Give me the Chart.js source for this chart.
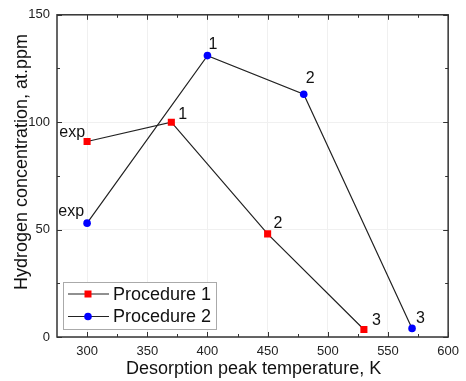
<!DOCTYPE html>
<html>
<head>
<meta charset="utf-8">
<script src="https://cdn.jsdelivr.net/npm/chart.js@4/dist/chart.umd.min.js"></script>
<style>
  html, body { margin: 0; padding: 0; background: #fff; }
  #wrap { width: 466px; height: 381px; position: relative; }
</style>
</head>
<body>
<div id="wrap"><canvas id="chart"></canvas></div>
<script>
// data
const p1Temp = [300, 370, 450, 530];
const p1Conc = [91, 100, 48, 3.5];
const p1Labels = ['exp', '1', '2', '3'];

const p2Temp = [300, 400, 480, 570];
const p2Conc = [53, 131, 113, 4];
const p2Labels = ['exp', '1', '2', '3'];

const xTicks = [300, 350, 400, 450, 500, 550, 600];
const yTicks = [0, 50, 100, 150];
const xMinor = [325, 375, 425, 475, 525, 575];
const yMinor = [25, 75, 125];

const seriesNames = ['Procedure 1', 'Procedure 2'];
const xTitle = 'Desorption peak temperature, K';
const yTitle = 'Hydrogen concentration, at.ppm';

const FONT = 'Arial, "Liberation Sans", sans-serif';
const AXIS = '#333';

// where each point label sits relative to its marker (dx, baseline dy)
const labelNudge = [
    [[-2, -5], [7, -3], [6, -6], [8, -4]],
    [[-3, -7], [1, -7], [2, -11], [4, -5]]
];

function toPoints(xs, ys) {
    return xs.map((x, i) => ({ x: x, y: ys[i] }));
}

// frame, inward ticks, titles, point labels and the boxed legend
const decorPlugin = {
    id: 'decor',
    afterDatasetsDraw(chart) {
        const ctx = chart.ctx;
        const a = chart.chartArea;
        const xs = chart.scales.x, ys = chart.scales.y;
        ctx.save();

        // ticks, on all four sides, pointing in
        ctx.strokeStyle = AXIS;
        ctx.lineWidth = 1;
        ctx.beginPath();
        const tickX = (list, len) => {
            list.forEach(v => {
                const px = Math.round(xs.getPixelForValue(v)) + 0.5;
                ctx.moveTo(px, a.bottom); ctx.lineTo(px, a.bottom - len);
                ctx.moveTo(px, a.top); ctx.lineTo(px, a.top + len);
            });
        };
        const tickY = (list, len) => {
            list.forEach(v => {
                const py = Math.round(ys.getPixelForValue(v)) + 0.5;
                ctx.moveTo(a.left, py); ctx.lineTo(a.left + len, py);
                ctx.moveTo(a.right, py); ctx.lineTo(a.right - len, py);
            });
        };
        tickX(xTicks, 5); tickX(xMinor, 3);
        tickY(yTicks, 5); tickY(yMinor, 3);
        ctx.stroke();

        // frame
        ctx.lineWidth = 1.5;
        ctx.strokeRect(a.left, a.top, a.right - a.left, a.bottom - a.top);

        // axis titles
        ctx.fillStyle = '#111';
        ctx.font = '18px ' + FONT;
        ctx.textAlign = 'center';
        ctx.textBaseline = 'alphabetic';
        ctx.fillText(xTitle, (a.left + a.right) / 2 + 1, 374);
        ctx.save();
        ctx.translate(27, 162);
        ctx.rotate(-Math.PI / 2);
        ctx.fillText(yTitle, 0, 0);
        ctx.restore();

        // point labels
        ctx.font = '16px ' + FONT;
        [p1Labels, p2Labels].forEach((labels, di) => {
            const meta = chart.getDatasetMeta(di);
            meta.data.forEach((pt, i) => {
                const txt = labels[i];
                const n = labelNudge[di][i];
                ctx.textAlign = txt === 'exp' ? 'right' : 'left';
                ctx.fillText(txt, pt.x + n[0], pt.y + n[1]);
            });
        });

        // legend
        const lx = 63, ly = 282, lw = 153, lh = 47;
        ctx.fillStyle = '#fff';
        ctx.fillRect(lx, ly, lw, lh);
        ctx.strokeStyle = '#aaa';
        ctx.lineWidth = 1;
        ctx.strokeRect(lx + 0.5, ly + 0.5, lw, lh);
        ctx.font = '18px ' + FONT;
        ctx.textAlign = 'left';
        ctx.textBaseline = 'middle';
        chart.data.datasets.forEach((ds, i) => {
            const cy = ly + 12 + i * 22.5;
            ctx.strokeStyle = '#222';
            ctx.lineWidth = 1.2;
            ctx.beginPath();
            ctx.moveTo(lx + 5, cy); ctx.lineTo(lx + 46, cy);
            ctx.stroke();
            ctx.fillStyle = ds.pointBackgroundColor;
            if (ds.pointStyle === 'rect') {
                ctx.fillRect(lx + 25 - 3.5, cy - 3.5, 7, 7);
            } else {
                ctx.beginPath();
                ctx.arc(lx + 25, cy, 3.8, 0, Math.PI * 2);
                ctx.fill();
            }
            ctx.fillStyle = '#111';
            ctx.fillText(ds.label, lx + 50, cy + 1);
        });
        ctx.restore();
    }
};

new Chart(document.getElementById('chart'), {
    type: 'scatter',
    data: {
        datasets: [{
            label: seriesNames[0],
            data: toPoints(p1Temp, p1Conc),
            showLine: true,
            borderColor: '#222',
            borderWidth: 1.2,
            pointStyle: 'rect',
            pointRadius: 5,
            pointBackgroundColor: '#ff0000',
            pointBorderWidth: 0,
            pointBorderColor: '#ff0000'
        }, {
            label: seriesNames[1],
            data: toPoints(p2Temp, p2Conc),
            showLine: true,
            borderColor: '#222',
            borderWidth: 1.2,
            pointStyle: 'circle',
            pointRadius: 3.8,
            pointBackgroundColor: '#0000ff',
            pointBorderWidth: 0,
            pointBorderColor: '#0000ff'
        }]
    },
    options: {
        responsive: true,
        maintainAspectRatio: false,
        animation: false,
        layout: { padding: { top: 14, right: 10, left: 0, bottom: 0 } },
        plugins: {
            legend: { display: false },
            tooltip: { enabled: false }
        },
        scales: {
            x: {
                type: 'linear',
                min: 275,
                max: 600,
                afterBuildTicks: s => { s.ticks = xTicks.map(v => ({ value: v })); },
                afterFit: s => { s.height = 44; },
                border: { display: false },
                grid: { color: '#f0f0f0', drawTicks: false },
                ticks: { color: '#222', padding: 7, font: { size: 13, family: FONT } }
            },
            y: {
                min: 0,
                max: 150,
                afterBuildTicks: s => { s.ticks = yTicks.map(v => ({ value: v })); },
                afterFit: s => { s.width = 57; },
                border: { display: false },
                grid: { color: '#f0f0f0', drawTicks: false },
                ticks: { color: '#222', padding: 7, font: { size: 13, family: FONT } }
            }
        }
    },
    plugins: [decorPlugin]
});
</script>
</body>
</html>
